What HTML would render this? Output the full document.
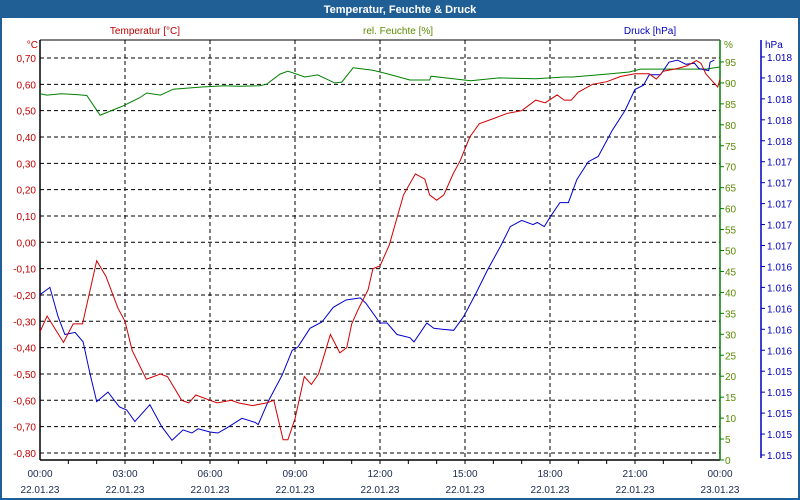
<!DOCTYPE html>
<html><head><meta charset="utf-8"><style>
body{margin:0;background:#fff;}
#wrap{position:relative;width:800px;height:500px;overflow:hidden;font-family:"Liberation Sans",sans-serif;}
svg text{font-family:"Liberation Sans",sans-serif;font-size:10px;}
</style></head><body>
<div id="wrap">
<svg id="chart" width="800" height="500">
<rect x="1" y="1" width="798" height="498" fill="#fff" stroke="#1f5f96" stroke-width="2"/>
<rect x="0" y="0" width="800" height="18" fill="#1f5f96"/>
<text x="400" y="13" text-anchor="middle" fill="#fff" font-weight="bold" style="font-size:11px">Temperatur, Feuchte &amp; Druck</text>
<text x="145" y="34" text-anchor="middle" fill="#c00000">Temperatur [°C]</text>
<text x="398" y="34" text-anchor="middle" fill="#5a8a00">rel. Feuchte [%]</text>
<text x="650" y="34" text-anchor="middle" fill="#0000c0">Druck [hPa]</text>
<text x="38" y="48" text-anchor="end" fill="#c00000">°C</text>
<text x="724" y="48" fill="#5a8a00">%</text>
<text x="765" y="48" fill="#0000c0">hPa</text>
<g id="grid"></g><g id="axes"></g><g id="series"></g>
</svg>
</div>
<script>
const tempTicks=[0.70,0.60,0.50,0.40,0.30,0.20,0.10,0.00,-0.10,-0.20,-0.30,-0.40,-0.50,-0.60,-0.70,-0.80];
const humTicks=[0,5,10,15,20,25,30,35,40,45,50,55,60,65,70,75,80,85,90,95];
const presTicks=[1014.6,1014.8,1015.0,1015.2,1015.4,1015.6,1015.8,1016.0,1016.2,1016.4,1016.6,1016.8,1017.0,1017.2,1017.4,1017.6,1017.8,1018.0,1018.2,1018.4];
const timeLabels=["00:00","03:00","06:00","09:00","12:00","15:00","18:00","21:00","00:00"];
const dateLabels=["22.01.23","22.01.23","22.01.23","22.01.23","22.01.23","22.01.23","22.01.23","22.01.23","23.01.23"];

const tempTimes=[0,0.25,0.83,1.17,1.5,2,2.33,2.75,3,3.25,3.75,4.25,4.5,5,5.25,5.5,6,6.25,6.75,7,7.5,8,8.25,8.58,8.75,9,9.33,9.58,9.83,10.25,10.58,10.83,11,11.25,11.58,11.75,12,12.33,12.83,13.25,13.58,13.75,14,14.25,14.58,14.83,15.17,15.5,16,16.5,17,17.5,17.83,18.25,18.5,18.75,19,19.5,20,20.5,21,21.5,21.75,22,22.5,22.83,23.17,23.33,23.5,23.83,23.92,24];
const tempVals=[-0.34,-0.28,-0.38,-0.31,-0.31,-0.07,-0.13,-0.25,-0.30,-0.41,-0.52,-0.50,-0.51,-0.60,-0.61,-0.58,-0.60,-0.61,-0.60,-0.61,-0.62,-0.61,-0.60,-0.75,-0.75,-0.67,-0.51,-0.54,-0.50,-0.35,-0.42,-0.40,-0.31,-0.25,-0.18,-0.10,-0.09,-0.01,0.18,0.26,0.24,0.18,0.16,0.18,0.26,0.31,0.40,0.45,0.47,0.49,0.50,0.54,0.53,0.56,0.54,0.54,0.57,0.60,0.61,0.63,0.64,0.64,0.62,0.65,0.66,0.67,0.69,0.68,0.64,0.60,0.59,0.62];

const humTimes=[0,0.25,0.75,1.3,1.65,2.12,2.75,2.93,3.5,3.77,4.25,4.7,5.65,6.5,7,7.75,8,8.47,8.75,9.35,9.8,10.4,10.65,11.05,11.75,12.3,13.05,13.75,13.8,14.7,15.2,16.2,17.5,18.5,18.8,20,20.8,21.2,22.6,23.5,24];
const humVals=[87.4,87.1,87.4,87.2,87,82.3,84,84.5,86.4,87.6,87.1,88.5,89,89.3,89.2,89.3,89.7,92.1,92.8,91.4,91.9,90,90.2,93.6,93,92.1,90.7,90.7,91.6,90.9,90.5,91.2,91,91.4,91.4,92.1,92.6,93.3,93.3,93.3,93.8];

const presTimes=[0,0.35,0.64,0.88,1.24,1.52,1.76,2.0,2.4,2.8,3.06,3.35,3.88,4.3,4.66,5.05,5.36,5.58,6.0,6.28,6.6,7.13,7.6,7.7,8.05,8.54,8.9,9.1,9.53,9.95,10.35,10.8,11.3,11.5,12.0,12.25,12.6,13.06,13.2,13.65,13.9,14.2,14.6,14.95,15.4,15.8,16.25,16.6,17.0,17.4,17.55,17.8,18.0,18.35,18.65,18.95,19.35,19.7,20.2,20.65,21.0,21.3,21.5,21.9,22.2,22.5,22.8,23.1,23.25,23.6,23.65,23.8];
const presVals=[1016.13,1016.20,1015.92,1015.75,1015.77,1015.68,1015.38,1015.11,1015.20,1015.06,1015.03,1014.92,1015.08,1014.87,1014.74,1014.84,1014.81,1014.85,1014.82,1014.81,1014.86,1014.95,1014.91,1014.89,1015.11,1015.36,1015.60,1015.63,1015.81,1015.87,1016.01,1016.08,1016.10,1016.05,1015.86,1015.86,1015.75,1015.72,1015.68,1015.86,1015.81,1015.80,1015.79,1015.92,1016.15,1016.37,1016.59,1016.78,1016.84,1016.80,1016.82,1016.78,1016.87,1017.01,1017.01,1017.23,1017.40,1017.45,1017.70,1017.89,1018.09,1018.13,1018.23,1018.23,1018.35,1018.37,1018.33,1018.34,1018.29,1018.27,1018.35,1018.37];

const L=40,R=720,T=40,B=460;
const xT=h=>L+h*(R-L)/24;
const yTemp=v=>58+(0.70-v)*263.3;
const yHum=v=>460-v*4.19;
const yPres=v=>455-(v-1014.6)/0.2*20.95;
const NS="http://www.w3.org/2000/svg";
function mk(parent,tag,attrs){const e=document.createElementNS(NS,tag);for(const k in attrs)e.setAttribute(k,attrs[k]);parent.appendChild(e);return e;}
const grid=document.getElementById('grid'),axes=document.getElementById('axes'),series=document.getElementById('series');
const fmt=v=>v.toFixed(2).replace('.',',').replace('-0,00','0,00');

tempTicks.forEach(v=>{
  const y=yTemp(v);
  const g=mk(grid,'line',{x1:L,x2:R,y1:y,y2:y,stroke:'#000','stroke-dasharray':'4,3'});
  
  
  const t=mk(axes,'text',{x:36,y:y+4,'text-anchor':'end',fill:'#c00000'});t.textContent=fmt(v);
  
  
});
timeLabels.forEach((s,i)=>{
  const x=xT(i*3);
  if(i>0&&i<8){const g=mk(grid,'line',{x1:x,x2:x,y1:T,y2:B,stroke:'#000','stroke-dasharray':'4,3'});
    
    }
  const t=mk(axes,'text',{x:x,y:477,'text-anchor':'middle',fill:'#1a2a50'});t.textContent=s;
  
  
  const d=mk(axes,'text',{x:x,y:493,'text-anchor':'middle',fill:'#1a2a50'});d.textContent=dateLabels[i];
  
  
});
for(let h=1;h<24;h++){const x=xT(h);const tk=mk(axes,'line',{x1:x,x2:x,y1:B,y2:B+4,stroke:'#000'});
  
  }
let a=mk(axes,'line',{x1:L,x2:R,y1:T,y2:T,stroke:'#000'});
a=mk(axes,'line',{x1:L,x2:L,y1:T,y2:B,stroke:'#000','stroke-width':1.5});
a=mk(axes,'line',{x1:L,x2:R,y1:B,y2:B,stroke:'#000','stroke-width':1.5});
a=mk(axes,'line',{x1:R,x2:R,y1:T,y2:B,stroke:'#008000','stroke-width':1.5});
a=mk(axes,'line',{x1:761,x2:761,y1:T,y2:458,stroke:'#0000c0','stroke-width':1.5});
humTicks.forEach(v=>{const y=yHum(v);
  const tk=mk(axes,'line',{x1:R,x2:R+4,y1:y,y2:y,stroke:'#008000'});
  
  
  const t=mk(axes,'text',{x:R+5,y:y+4,fill:'#5a8a00'});t.textContent=v;
  
  });
presTicks.forEach(v=>{const y=yPres(v);
  const tk=mk(axes,'line',{x1:761,x2:765,y1:y,y2:y,stroke:'#0000c0'});
  
  
  const t=mk(axes,'text',{x:767,y:y+4,fill:'#0000c0'});t.textContent=Math.round(v).toString().replace(/^1/,'1.');
  
  });
function line(ts,vs,yf){return ts.map((t,i)=>xT(t).toFixed(1)+','+yf(vs[i]).toFixed(1)).join(' ');}
let p=mk(series,'polyline',{points:line(humTimes,humVals,yHum),fill:'none',stroke:'#008000','stroke-width':1});

p=mk(series,'polyline',{points:line(presTimes,presVals,yPres),fill:'none',stroke:'#0000d0','stroke-width':1});

p=mk(series,'polyline',{points:line(tempTimes,tempVals,yTemp),fill:'none',stroke:'#d00000','stroke-width':1});

</script>
</body></html>
